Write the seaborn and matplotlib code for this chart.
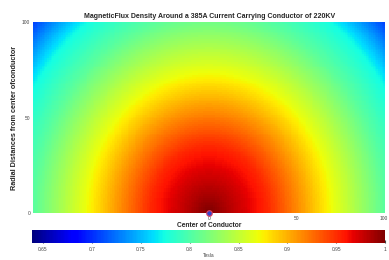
import numpy as np
import pandas as pd
import seaborn as sns
import matplotlib.pyplot as plt

# radial profile of flux density (distance -> Tesla)
radius = [0, 10, 20, 33, 50, 72, 100, 118, 142]
flux = [1.0, 0.985, 0.972, 0.953, 0.915, 0.865, 0.805, 0.774, 0.695]
# contours in the picture reach slightly further upward than sideways
y_stretch = 0.95

x_vals = np.arange(-100, 101)
y_vals = np.arange(100, -1, -1)
xticks = [0, 50, 100]
yticks = [0, 50, 100]
cbar_ticks = [0.65, 0.7, 0.75, 0.8, 0.85, 0.9, 0.95, 1.0]
cbar_labels = ['0.65', '0.7', '0.75', '0.8', '0.85', '0.9', '0.95', '1']

sns.set_style('white')
plt.rcParams['font.family'] = ['Liberation Sans', 'DejaVu Sans']

xx, yy = np.meshgrid(x_vals, y_vals)
dist = np.sqrt(xx ** 2 + (y_stretch * yy) ** 2)
grid = pd.DataFrame(np.interp(dist, radius, flux), index=y_vals, columns=x_vals)

fig = plt.figure(figsize=(3.89, 2.60), dpi=100)
ax = fig.add_axes([0.085, 0.181, 0.905, 0.734])
cax = fig.add_axes([0.083, 0.066, 0.907, 0.05])

sns.heatmap(grid, ax=ax, cmap='jet', vmin=0.639, vmax=1.0, cbar_ax=cax,
            cbar_kws={'orientation': 'horizontal', 'ticks': cbar_ticks},
            xticklabels=False, yticklabels=False, rasterized=True)

ncol = len(x_vals)
nrow = len(y_vals)
ax.set_xticks([list(x_vals).index(v) + 0.5 for v in xticks])
ax.set_xticklabels([str(v) for v in xticks], fontsize=3.5, color='#444444')
ax.set_yticks([nrow, nrow / 2, 0])
ax.set_yticklabels([str(v) for v in yticks], fontsize=3.5, color='#444444', rotation=0)
ax.tick_params(length=0, pad=2)
ax.set_xlim(0, ncol)
ax.set_ylim(nrow, 0)

# conductor marker at the centre
ax.plot(list(x_vals).index(0) + 0.5, nrow, 'o', ms=4, mfc='#3344cc', mec='#dd4466',
        mew=0.8, clip_on=False, zorder=5)

ax.set_title('MagneticFlux Density Around a 385A Current Carrying Conductor of 220KV',
             fontsize=5.0, fontweight='bold', pad=3)
ax.set_xlabel('Center of Conductor', fontsize=4.8, fontweight='bold', labelpad=1)
ax.set_ylabel('Radial Distances from center ofconductor', fontsize=5.2,
              fontweight='bold', labelpad=3)

cax.set_xticklabels(cbar_labels)
cax.tick_params(labelsize=3.5, length=2, direction='in', colors='#444444', pad=3)
cax.set_xlabel('Tesla', fontsize=3.5, color='#444444', labelpad=1)

fig.savefig('out.png', dpi=100)
